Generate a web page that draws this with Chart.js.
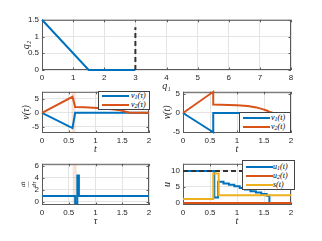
<!DOCTYPE html>
<html>
<head>
<meta charset="utf-8">
<script src="https://cdn.jsdelivr.net/npm/chart.js@4.4.1/dist/chart.umd.min.js"></script>
<style>
  body { margin: 0; background: #fff; }
  #fig { position: relative; width: 322px; height: 241px; overflow: hidden; background: #fff; }
  canvas { position: absolute; }
  .leg { position: absolute; background: #fff; border: 1px solid #444; box-sizing: border-box; }
  .leg .ln { position: absolute; height: 2px; width: 27px; }
  .leg .tx { position: absolute; font: italic 8px "Liberation Serif", serif; line-height: 10px; white-space: nowrap; color: #000; }
  .leg sub { font-size: 6px; vertical-align: -1px; line-height: 0; }
</style>
</head>
<body>
<div id="fig"></div>
<script>
const BLUE = "#0072BD";
const ORANGE = "#D95319";
const YELLOW = "#EDB120";
const DASH = "#333333";
const BAND = "rgba(217,83,25,0.17)";
const GRID = "#e4e4e4";
const INK = "#262626";

// top panel: q2 over q1
const q1 = [0, 1.5, 3];
const q2 = [1.5, 0, 0];
const q1Bound = [3, 3];
const q2Bound = [0, 1.28];
const q1Ticks = [0, 1, 2, 3, 4, 5, 6, 7, 8];
const q2Ticks = [0, 0.5, 1, 1.5];

// middle left: v over tau
const tauV1 = [0, 0.57, 0.62, 2];
const v1Tau = [0, -5.5, 0, 0];
const tauV2 = [0, 0.57, 0.62, 0.8, 1.03, 1.2, 1.35, 1.46, 1.55, 1.64, 2];
const v2Tau = [0, 5.8, 2.1, 2.0, 1.7, 1.5, 1.2, 0.9, 0.5, 0, 0];
const bandMid = 0.59;

// middle right: v over t
const tV1 = [0, 0.56, 0.56, 2];
const v1T = [0, -5, 0, 0];
const tV2 = [0, 0.56, 0.56, 0.7, 1.0, 1.2, 1.36, 1.47, 1.55, 1.61, 1.67, 2];
const v2T = [0, 5.5, 2.2, 2.15, 2.0, 1.8, 1.45, 1.0, 0.63, 0.24, 0, 0];

const vTicks = [-5, 0, 5];
const timeTicks = [0, 0.5, 1, 1.5, 2];

// bottom left: dt/dtau
const tauD = [0, 0.62, 0.62, 0.66, 0.66, 0.69, 0.69, 2];
const dtdtau = [1, 1, -0.2, -0.2, 4.4, 4.4, 1, 1];
const bandBot = 0.61;
const dTicks = [0, 2, 4, 6];

// bottom right: u over t (zero order hold, value held until next time)
const tU1 = [0, 0.58, 0.65, 0.75, 0.85, 0.95, 1.05, 1.15, 1.25, 1.35, 1.45, 1.55, 1.6, 2];
const u1 = [10, 1.7, 6.6, 6.1, 5.7, 5.2, 4.7, 4.2, 3.7, 3.3, 2.8, 2.3, 0, 0];
const tU2 = [0, 2];
const u2 = [0, 0];
const tS = [0, 0.56, 0.66, 2];
const s = [1.3, 9.2, 2.4, 2.4];
const tUmax = [0, 2];
const uMax = [10, 10];
const uTicks = [0, 5, 10];

const zip = (xs, ys) => xs.map((x, i) => ({ x: x, y: ys[i] }));
// hold each value until the next sample
const hold = (xs, ys) => {
  const out = [];
  xs.forEach((x, i) => {
    if (i > 0) out.push({ x: x, y: ys[i - 1] });
    out.push({ x: x, y: ys[i] });
  });
  return out;
};

const boxPlugin = {
  id: "box",
  beforeDatasetsDraw(chart) {
    const { ctx, chartArea: a, scales } = chart;
    ctx.save();
    ctx.strokeStyle = "#5a5a5a";
    ctx.lineWidth = 1;
    ctx.strokeRect(a.left + 0.5, a.top + 0.5, a.right - a.left - 1, a.bottom - a.top - 1);
    ctx.beginPath();
    scales.x.ticks.forEach((t) => {
      const px = Math.round(scales.x.getPixelForValue(t.value)) + 0.5;
      ctx.moveTo(px, a.bottom); ctx.lineTo(px, a.bottom - 2.5);
      ctx.moveTo(px, a.top); ctx.lineTo(px, a.top + 2.5);
    });
    scales.y.ticks.forEach((t) => {
      const py = Math.round(scales.y.getPixelForValue(t.value)) + 0.5;
      ctx.moveTo(a.left, py); ctx.lineTo(a.left + 2.5, py);
      ctx.moveTo(a.right, py); ctx.lineTo(a.right - 2.5, py);
    });
    ctx.stroke();
    ctx.restore();
  },
};

const tickFont = { family: "'Liberation Sans', Arial, sans-serif", size: 8 };
const titleFont = { family: "'Liberation Serif', serif", size: 10, style: "italic" };

const YW = 22, XH = 22, PT = 6, PR = 6;

function axisOpts(min, max, ticks, title, horizontal, tFont) {
  return {
    type: "linear",
    min: min,
    max: max,
    afterBuildTicks: (sc) => { sc.ticks = ticks.map((v) => ({ value: v })); },
    afterFit: (sc) => { if (horizontal) sc.height = XH; else sc.width = YW; },
    grid: { color: GRID, drawTicks: false, lineWidth: 1 },
    border: { display: false },
    ticks: { font: tickFont, color: INK, padding: 3, autoSkip: false, maxRotation: 0,
      callback: (v) => String(v) },
    title: { display: true, text: title, font: tFont || titleFont, color: INK, padding: 0 },
  };
}

function line(data, color, order, extra) {
  return Object.assign({
    data: data,
    borderColor: color,
    borderWidth: 2,
    pointRadius: 0,
    tension: 0,
    fill: false,
    clip: 4,
    order: order,
  }, extra || {});
}

const fig = document.getElementById("fig");

function panel(rect, datasets, xs, ys) {
  const cv = document.createElement("canvas");
  const w = rect.R - rect.L + YW + PR;
  const h = rect.B - rect.T + PT + XH;
  cv.width = w; cv.height = h;
  cv.style.left = (rect.L - YW) + "px";
  cv.style.top = (rect.T - PT) + "px";
  cv.style.width = w + "px"; cv.style.height = h + "px";
  fig.appendChild(cv);
  return new Chart(cv.getContext("2d"), {
    type: "line",
    data: { datasets: datasets },
    options: {
      responsive: false,
      animation: false,
      devicePixelRatio: 1,
      layout: { padding: { top: PT, right: PR, left: 0, bottom: 0 } },
      plugins: { legend: { display: false }, tooltip: { enabled: false } },
      scales: { x: xs, y: ys },
    },
    plugins: [boxPlugin],
  });
}

function legend(box, rows, labels, colors, lineX, textX) {
  const d = document.createElement("div");
  d.className = "leg";
  d.style.left = box.x + "px"; d.style.top = box.y + "px";
  d.style.width = box.w + "px"; d.style.height = box.h + "px";
  labels.forEach((lab, i) => {
    const ln = document.createElement("span");
    ln.className = "ln";
    ln.style.left = lineX + "px";
    ln.style.top = (rows[i] - box.y - 2) + "px";
    ln.style.background = colors[i];
    const tx = document.createElement("span");
    tx.className = "tx";
    tx.style.left = textX + "px";
    tx.style.top = (rows[i] - box.y - 6) + "px";
    tx.innerHTML = lab;
    d.append(ln, tx);
  });
  fig.appendChild(d);
}

// top
panel({ L: 42, T: 18, R: 291, B: 70 }, [
  line(zip(q1, q2), BLUE, 2),
  line(zip(q1Bound, q2Bound), DASH, 1, { borderDash: [5, 3] }),
], axisOpts(0, 8, q1Ticks, "q₁", true), axisOpts(0, 1.5, q2Ticks, "q₂", false));

// middle left
panel({ L: 42, T: 90, R: 149, B: 133 }, [
  line(zip([bandMid, bandMid], [-7.3, 7.6]), BAND, 9, { borderWidth: 4 }),
  line(zip(tauV1, v1Tau), BLUE, 2),
  line(zip(tauV2, v2Tau), ORANGE, 1),
], axisOpts(0, 2, timeTicks, "t", true), axisOpts(-7.3, 7.6, vTicks, "v(τ)", false));

// middle right
panel({ L: 183, T: 90, R: 291, B: 133 }, [
  line(zip(tV1, v1T), BLUE, 2),
  line(zip(tV2, v2T), ORANGE, 1),
], axisOpts(0, 2, timeTicks, "t", true), axisOpts(-5.2, 5.5, vTicks, "v(t)", false));

// bottom left
panel({ L: 42, T: 162, R: 149, B: 205 }, [
  line(zip([bandBot, bandBot], [-0.5, 6.35]), BAND, 9, { borderWidth: 4 }),
  line(zip(tauD, dtdtau), BLUE, 1),
], axisOpts(0, 2, timeTicks, "τ", true),
   axisOpts(-0.5, 6.35, dTicks, ["dt", "—", "dτ"], false,
     { family: "'Liberation Serif', serif", size: 7, style: "italic", lineHeight: 0.8 }));

// bottom right
panel({ L: 183, T: 162, R: 291, B: 205 }, [
  line(hold(tU1, u1), BLUE, 4),
  line(zip(tU2, u2), ORANGE, 3),
  line(hold(tS, s), YELLOW, 2),
  line(zip(tUmax, uMax), DASH, 1, { borderDash: [5, 3] }),
], axisOpts(0, 2, timeTicks, "t", true), axisOpts(-0.6, 12.2, uTicks, "u", false));

legend({ x: 98, y: 91, w: 52, h: 19 }, [96, 104.5],
  ["v<sub>1</sub>(τ)", "v<sub>2</sub>(τ)"], [BLUE, ORANGE], 3, 32);
legend({ x: 239, y: 112, w: 52, h: 21 }, [118.3, 127.3],
  ["v<sub>1</sub>(t)", "v<sub>2</sub>(t)"], [BLUE, ORANGE], 3, 31);
legend({ x: 242, y: 160, w: 53, h: 30 }, [167.3, 175.7, 185],
  ["u<sub>1</sub>(t)", "u<sub>2</sub>(t)", "s(t)"], [BLUE, ORANGE, YELLOW], 3, 30);
</script>
</body>
</html>
